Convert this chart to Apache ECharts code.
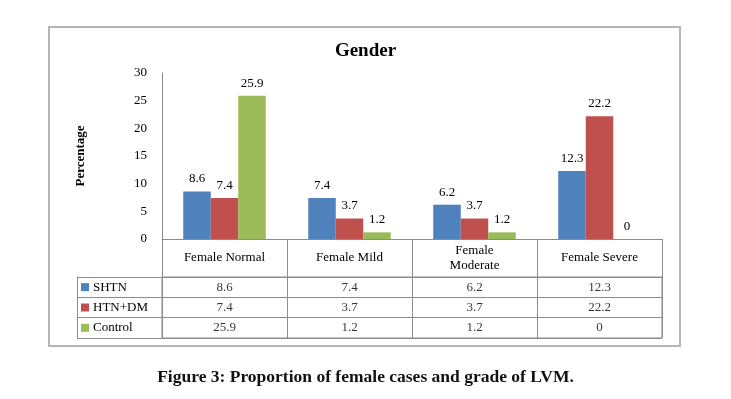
<!DOCTYPE html>
<html>
<head>
<meta charset="utf-8">
<script src="https://cdn.jsdelivr.net/npm/echarts@6/dist/echarts.min.js"></script>
<style>
  html, body { margin: 0; padding: 0; background: #fff; }
  #main { width: 731px; height: 399px; }
</style>
</head>
<body>
<div id="main"></div>
<script>
var categories = ['Female Normal', 'Female Mild', 'Female\nModerate', 'Female Severe'];
var seriesNames = ['SHTN', 'HTN+DM', 'Control'];
var shtn = [8.6, 7.4, 6.2, 12.3];
var htnDm = [7.4, 3.7, 3.7, 22.2];
var control = [25.9, 1.2, 1.2, 0];
var yTicks = [0, 5, 10, 15, 20, 25, 30];

var colors = ['#4F81BD', '#C0504D', '#9BBB59'];
var lineColor = '#8c8c8c';
var serif = '"Liberation Serif", "DejaVu Serif", serif';

var chart = echarts.init(document.getElementById('main'));

var allValues = [shtn, htnDm, control];

// table cells: [column, row, value]
var cellData = [];
allValues.forEach(function (vals, row) {
  vals.forEach(function (v, col) {
    cellData.push([col, row, v]);
  });
});

var barSeries = seriesNames.map(function (name, i) {
  return {
    name: name,
    type: 'bar',
    xAxisIndex: 0,
    yAxisIndex: 0,
    data: allValues[i],
    barGap: '0%',
    barCategoryGap: '34%',
    itemStyle: { color: colors[i] },
    label: {
      show: true,
      position: 'top',
      distance: 6,
      color: '#000',
      fontFamily: serif,
      fontSize: 13
    }
  };
});

var option = {
  backgroundColor: '#ffffff',
  animation: false,
  title: [{
    text: 'Gender',
    left: 'center',
    top: 37,
    textStyle: { fontFamily: serif, fontWeight: 'bold', fontSize: 19, color: '#000' }
  }, {
    text: 'Figure 3: Proportion of female cases and grade of LVM.',
    left: 'center',
    top: 363,
    textStyle: { fontFamily: serif, fontWeight: 'bold', fontSize: 17.5, color: '#111' }
  }],
  legend: {
    orient: 'vertical',
    left: 81,
    top: 277,
    padding: 0,
    data: seriesNames,
    icon: 'rect',
    itemWidth: 8,
    itemHeight: 8,
    itemGap: 0,
    selectedMode: false,
    textStyle: { fontFamily: serif, fontSize: 13, color: '#000', lineHeight: 20.33, padding: [0, 0, 0, -1] }
  },
  graphic: [{
    type: 'rect',
    shape: { x: 49, y: 27, width: 631, height: 319 },
    style: { fill: null, stroke: '#b5b5b5', lineWidth: 2 },
    silent: true
  }],
  grid: [
    { left: 162, right: 69, top: 73, height: 166 },
    { left: 162, right: 69, top: 277, height: 61, show: true, borderColor: lineColor, borderWidth: 1 }
  ],
  xAxis: [{
    type: 'category',
    gridIndex: 0,
    data: categories,
    axisLine: { lineStyle: { color: lineColor } },
    axisTick: { show: true, length: 38, interval: 0, lineStyle: { color: lineColor } },
    axisLabel: {
      interval: 0,
      margin: 19,
      color: '#000',
      fontFamily: serif,
      fontSize: 13,
      lineHeight: 15,
      verticalAlign: 'middle'
    }
  }, {
    type: 'category',
    gridIndex: 1,
    data: categories,
    axisLine: { show: false },
    axisTick: { show: false },
    axisLabel: { show: false },
    splitLine: { show: true, lineStyle: { color: lineColor } }
  }],
  yAxis: [{
    type: 'value',
    gridIndex: 0,
    min: 0,
    max: 30,
    interval: 5,
    name: 'Percentage',
    nameLocation: 'middle',
    nameGap: 75,
    nameTextStyle: { fontFamily: serif, fontWeight: 'bold', fontSize: 13, color: '#000' },
    axisLine: { show: true, lineStyle: { color: lineColor } },
    axisTick: { show: false },
    splitLine: { show: false },
    axisLabel: {
      margin: 15,
      color: '#000',
      fontFamily: serif,
      fontSize: 13,
      formatter: function (v) { return yTicks.indexOf(v) >= 0 ? String(v) : ''; }
    }
  }, {
    type: 'category',
    gridIndex: 1,
    position: 'left',
    inverse: true,
    data: seriesNames,
    axisLine: { show: false },
    axisTick: { show: true, length: 85, interval: 0, lineStyle: { color: lineColor } },
    axisLabel: { show: false },
    splitLine: { show: true, lineStyle: { color: lineColor } }
  }, {
    type: 'category',
    gridIndex: 1,
    position: 'left',
    inverse: true,
    data: seriesNames,
    offset: 85,
    axisLine: { show: true, lineStyle: { color: lineColor } },
    axisTick: { show: false },
    axisLabel: { show: false }
  }],
  series: barSeries.concat([{
    name: 'table',
    type: 'scatter',
    xAxisIndex: 1,
    yAxisIndex: 1,
    symbolSize: 0,
    silent: true,
    data: cellData,
    label: {
      show: true,
      position: 'inside',
      color: '#000',
      fontFamily: serif,
      fontSize: 13,
      formatter: function (p) { return String(p.value[2]); }
    }
  }])
};

chart.setOption(option);
</script>
</body>
</html>
